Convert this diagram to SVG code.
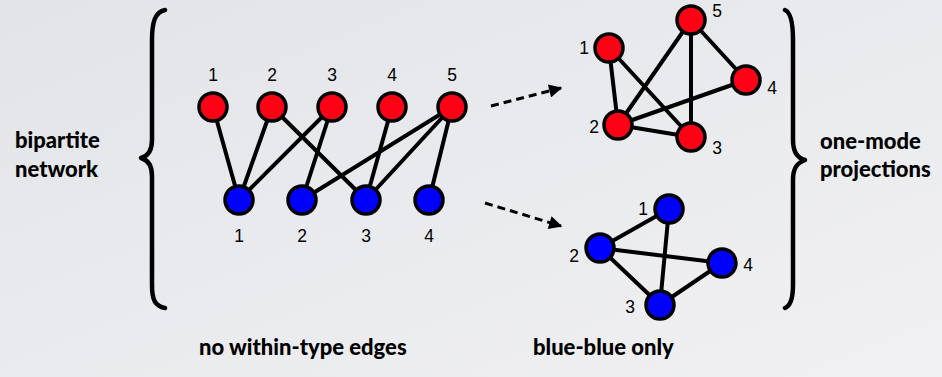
<svg xmlns="http://www.w3.org/2000/svg" width="942" height="377" viewBox="0 0 942 377">
  <defs>
    <linearGradient id="bg" x1="0" y1="0" x2="1" y2="1">
      <stop offset="0" stop-color="#e2e4e8"/>
      <stop offset="1" stop-color="#f1f1f3"/>
    </linearGradient>
    <marker id="arrowhead" viewBox="0 0 10 10" refX="9" refY="5" markerWidth="5" markerHeight="4.4" orient="auto" markerUnits="strokeWidth">
      <path d="M0,0 L10,5 L0,10 z" fill="#000"/>
    </marker>
    <style>
      .edge { stroke: #000; stroke-width: 4; stroke-linecap: round; fill: none; }
      .dash { stroke: #000; stroke-width: 3; stroke-dasharray: 8 5; fill: none; }
      .brace { stroke: #000; stroke-width: 4.5; fill: none; stroke-linecap: round; stroke-linejoin: round; }
      .red { fill: #ff0014; stroke: #000; stroke-width: 3.5; }
      .blue { fill: #0000ff; stroke: #000; stroke-width: 3.5; }
      .num { font-family: "Liberation Sans", Arial, sans-serif; font-size: 17.5px; fill: #000; text-anchor: middle; }
      .cap { font-family: Lato, "Open Sans", sans-serif; font-weight: 900; font-size: 22px; fill: #000; }
    </style>
  </defs>

  <rect width="942" height="377" fill="url(#bg)"/>

  <!-- braces -->
  <path class="brace" d="M165,10 C155,12 152,22 152,40 L152,140 C152,150 148,156 141,158 C148,160 152,166 152,176 L152,285 C152,300 155,306 165,308"/>
  <path class="brace" d="M785,10 C790,12 793,20 793,40 L793,140 C793,152 797,158 805,160 C797,163 793,168 793,180 L793,285 C793,300 790,306 785,308"/>

  <!-- side and bottom captions -->
  <text class="cap" x="15" y="148">bipartite</text>
  <text class="cap" x="15" y="177">network</text>
  <text class="cap" x="820" y="149">one-mode</text>
  <text class="cap" x="820" y="177">projections</text>
  <text class="cap" x="199" y="355">no within-type edges</text>
  <text class="cap" x="533" y="355">blue-blue only</text>

  <!-- connectors -->
  <g id="connectors">
    <!-- bipartite edges -->
    <line class="edge" x1="213" y1="107" x2="239" y2="200"/>
    <line class="edge" x1="272" y1="107" x2="239" y2="200"/>
    <line class="edge" x1="332" y1="107" x2="239" y2="200"/>
    <line class="edge" x1="332" y1="107" x2="302" y2="200"/>
    <line class="edge" x1="272" y1="107" x2="366" y2="200"/>
    <line class="edge" x1="392" y1="107" x2="366" y2="200"/>
    <line class="edge" x1="452" y1="107" x2="302" y2="200"/>
    <line class="edge" x1="452" y1="107" x2="366" y2="200"/>
    <line class="edge" x1="452" y1="107" x2="429" y2="200"/>
    <!-- red projection edges -->
    <line class="edge" x1="609" y1="48" x2="618" y2="125"/>
    <line class="edge" x1="609" y1="48" x2="691" y2="137"/>
    <line class="edge" x1="618" y1="125" x2="691" y2="20"/>
    <line class="edge" x1="618" y1="125" x2="746" y2="80"/>
    <line class="edge" x1="618" y1="125" x2="691" y2="137"/>
    <line class="edge" x1="691" y1="20" x2="691" y2="137"/>
    <line class="edge" x1="691" y1="20" x2="746" y2="80"/>
    <!-- blue projection edges -->
    <line class="edge" x1="669" y1="209" x2="600" y2="248"/>
    <line class="edge" x1="669" y1="209" x2="660" y2="305"/>
    <line class="edge" x1="600" y1="248" x2="722" y2="263"/>
    <line class="edge" x1="600" y1="248" x2="660" y2="305"/>
    <line class="edge" x1="660" y1="305" x2="722" y2="263"/>
    <!-- projection arrows -->
    <line class="dash" x1="491" y1="106" x2="561" y2="88" marker-end="url(#arrowhead)"/>
    <line class="dash" x1="485" y1="203" x2="561" y2="226" marker-end="url(#arrowhead)"/>
  </g>

  <!-- bipartite network: red type -->
  <g id="r1"><circle class="red" cx="213" cy="107" r="14"/><text class="num" x="213" y="81">1</text></g>
  <g id="r2"><circle class="red" cx="272" cy="107" r="14"/><text class="num" x="272" y="81">2</text></g>
  <g id="r3"><circle class="red" cx="332" cy="107" r="14"/><text class="num" x="332" y="81">3</text></g>
  <g id="r4"><circle class="red" cx="392" cy="107" r="14"/><text class="num" x="392" y="81">4</text></g>
  <g id="r5"><circle class="red" cx="452" cy="107" r="14"/><text class="num" x="452" y="81">5</text></g>

  <!-- bipartite network: blue type -->
  <g id="b1"><circle class="blue" cx="239" cy="200" r="14"/><text class="num" x="239" y="242">1</text></g>
  <g id="b2"><circle class="blue" cx="302" cy="200" r="14"/><text class="num" x="302" y="242">2</text></g>
  <g id="b3"><circle class="blue" cx="366" cy="200" r="14"/><text class="num" x="366" y="242">3</text></g>
  <g id="b4"><circle class="blue" cx="429" cy="200" r="14"/><text class="num" x="429" y="242">4</text></g>

  <!-- red one-mode projection -->
  <g id="pr1"><circle class="red" cx="609" cy="48" r="14"/><text class="num" x="584" y="54">1</text></g>
  <g id="pr2"><circle class="red" cx="618" cy="125" r="14"/><text class="num" x="594" y="133">2</text></g>
  <g id="pr3"><circle class="red" cx="691" cy="137" r="14"/><text class="num" x="717" y="154">3</text></g>
  <g id="pr4"><circle class="red" cx="746" cy="80" r="14"/><text class="num" x="772" y="94">4</text></g>
  <g id="pr5"><circle class="red" cx="691" cy="20" r="14"/><text class="num" x="717" y="17">5</text></g>

  <!-- blue one-mode projection -->
  <g id="pb1"><circle class="blue" cx="669" cy="209" r="14"/><text class="num" x="643" y="215">1</text></g>
  <g id="pb2"><circle class="blue" cx="600" cy="248" r="14"/><text class="num" x="574" y="262">2</text></g>
  <g id="pb3"><circle class="blue" cx="660" cy="305" r="14"/><text class="num" x="630" y="313">3</text></g>
  <g id="pb4"><circle class="blue" cx="722" cy="263" r="14"/><text class="num" x="748" y="271">4</text></g>
</svg>
